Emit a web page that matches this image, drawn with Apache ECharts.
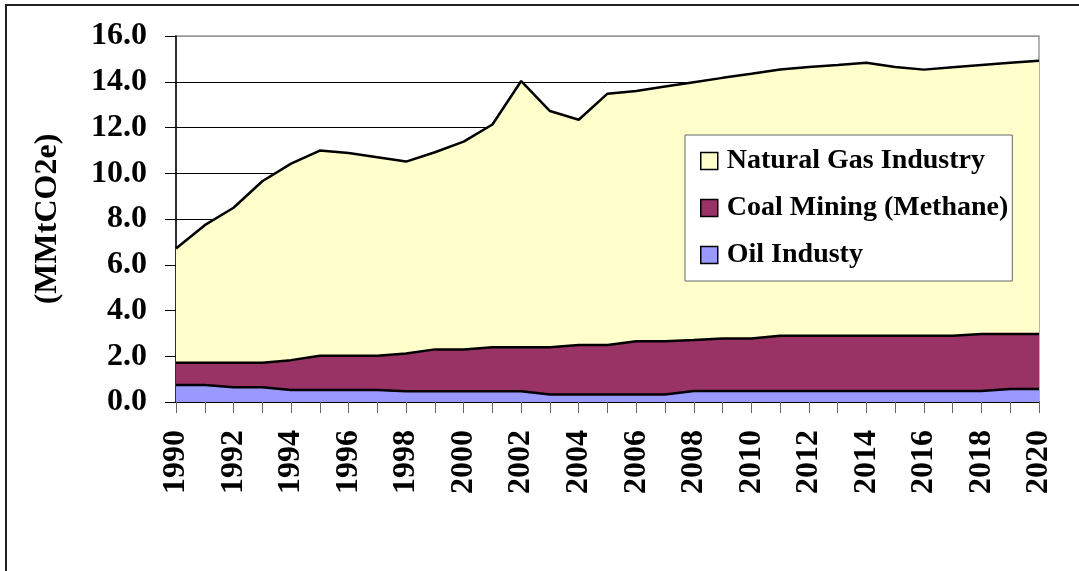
<!DOCTYPE html>
<html lang="en">
<head>
    <meta charset="UTF-8">
    <script src="https://cdn.jsdelivr.net/npm/echarts@6/dist/echarts.min.js"></script>
    <title>emissions</title>
    <style>
        body { margin: 0; background: #fff; }
    </style>
</head>
<body>
    <div id="main" style="width: 1079px;height:571px;"></div>

    <script type="text/javascript">
        // 数据
        var years = ['1990', '1991', '1992', '1993', '1994', '1995', '1996', '1997', '1998', '1999',
            '2000', '2001', '2002', '2003', '2004', '2005', '2006', '2007', '2008', '2009',
            '2010', '2011', '2012', '2013', '2014', '2015', '2016', '2017', '2018', '2019', '2020'];

        var oilIndustry = [0.74, 0.74, 0.64, 0.64, 0.52, 0.52, 0.52, 0.52, 0.47, 0.47,
            0.47, 0.47, 0.47, 0.33, 0.33, 0.33, 0.33, 0.33, 0.48, 0.48,
            0.48, 0.48, 0.48, 0.48, 0.48, 0.48, 0.48, 0.48, 0.48, 0.57, 0.57];

        var coalMining = [0.98, 0.98, 1.08, 1.08, 1.31, 1.50, 1.50, 1.50, 1.65, 1.83,
            1.83, 1.92, 1.92, 2.06, 2.16, 2.16, 2.33, 2.33, 2.23, 2.30,
            2.30, 2.42, 2.42, 2.42, 2.42, 2.42, 2.42, 2.42, 2.49, 2.40, 2.40];

        var naturalGas = [4.99, 6.01, 6.77, 7.93, 8.59, 8.97, 8.87, 8.68, 8.39, 8.62,
            9.08, 9.74, 11.64, 10.33, 9.85, 10.99, 10.94, 11.13, 11.27, 11.39,
            11.57, 11.64, 11.74, 11.83, 11.93, 11.74, 11.63, 11.73, 11.76, 11.86, 11.95];

        var seriesNames = ['Natural Gas Industry', 'Coal Mining (Methane)', 'Oil Industy'];
        var yTicks = [0, 2, 4, 6, 8, 10, 12, 14, 16];

        var font = '"Liberation Serif", "Times New Roman", serif';

        var myChart = echarts.init(document.getElementById('main'));

        function areaSeries(name, data, color) {
            return {
                name: name,
                type: 'line',
                stack: 'total',
                data: data,
                symbol: 'none',
                smooth: false,
                itemStyle: { color: color },
                lineStyle: { color: '#000', width: 2.5 },
                areaStyle: { color: color, opacity: 1 },
                emphasis: { disabled: true }
            };
        }

        // 分割线颜色：最上面一条是灰色的边框
        var splitColors = [];
        for (var i = 0; i < yTicks.length; i++) {
            splitColors.push(i === yTicks.length - 1 ? '#999' : '#000');
        }

        myChart.setOption({
            animation: false,
            backgroundColor: '#fff',
            graphic: [{
                type: 'rect',
                shape: { x: 6, y: 5, width: 1200, height: 700 },
                style: { fill: 'none', stroke: '#222', lineWidth: 2 },
                silent: true,
                z: -1
            }],
            grid: {
                left: 176,
                right: 40,
                top: 36,
                bottom: 169,
                outerBoundsMode: 'none',
                containLabel: false,
                show: true,
                borderColor: '#999',
                borderWidth: 1.5
            },
            legend: {
                data: seriesNames,
                orient: 'vertical',
                left: 685,
                top: 135,
                icon: 'rect',
                itemWidth: 17,
                itemHeight: 17,
                itemGap: 19,
                padding: [12, 4, 12, 15],
                backgroundColor: '#fff',
                borderColor: '#666',
                borderWidth: 1,
                itemStyle: { borderColor: '#000', borderWidth: 1.5 },
                textStyle: {
                    fontFamily: font,
                    fontWeight: 'bold',
                    fontSize: 28,
                    color: '#000',
                    padding: [0, 0, 0, 4]
                }
            },
            xAxis: {
                type: 'category',
                data: years,
                boundaryGap: false,
                axisLine: { lineStyle: { color: '#000', width: 1.5 } },
                axisTick: { interval: 0, length: 11, lineStyle: { color: '#666' } },
                axisLabel: {
                    interval: 1,
                    rotate: 90,
                    margin: 28,
                    fontFamily: font,
                    fontWeight: 'bold',
                    fontSize: 32,
                    color: '#000'
                },
                splitLine: { show: false }
            },
            yAxis: {
                type: 'value',
                min: 0,
                max: 16,
                interval: 2,
                name: '(MMtCO2e)',
                nameLocation: 'middle',
                nameGap: 112,
                nameRotate: 90,
                nameTextStyle: {
                    fontFamily: font,
                    fontWeight: 'bold',
                    fontSize: 32,
                    color: '#000'
                },
                axisLine: { show: true, lineStyle: { color: '#000', width: 1.5 } },
                axisTick: { show: true, length: 11, lineStyle: { color: '#000' } },
                axisLabel: {
                    margin: 29,
                    fontFamily: font,
                    fontWeight: 'bold',
                    fontSize: 32,
                    color: '#000',
                    formatter: function (v) { return v.toFixed(1); }
                },
                splitLine: { show: true, lineStyle: { color: splitColors, width: 1 } }
            },
            series: [
                areaSeries(seriesNames[2], oilIndustry, '#9999ff'),
                areaSeries(seriesNames[1], coalMining, '#993366'),
                areaSeries(seriesNames[0], naturalGas, '#ffffcc')
            ]
        });
    </script>

</body>
</html>
